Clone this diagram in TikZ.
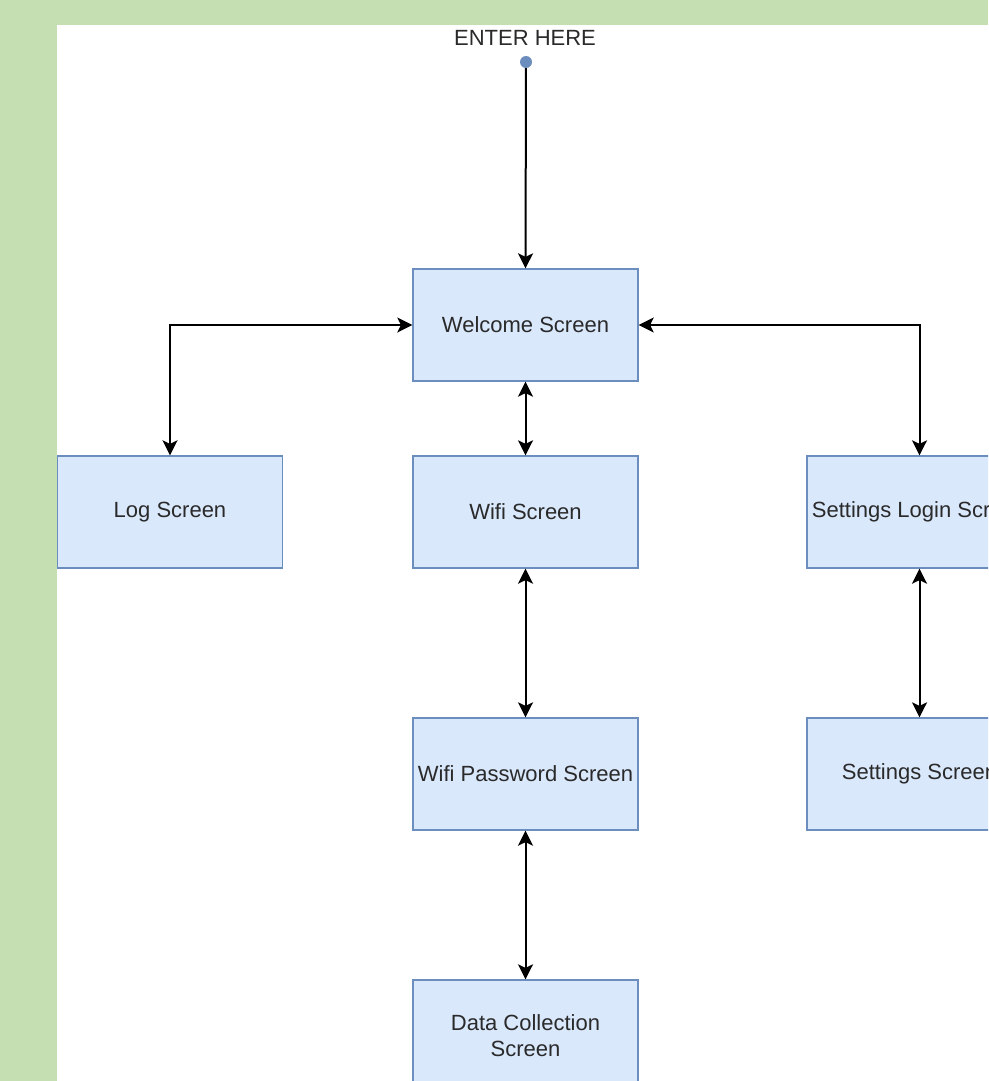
\documentclass[tikz,border=0pt]{standalone}
\usepackage{fontspec}
\setmainfont{Liberation Sans}
\usetikzlibrary{arrows.meta}
\definecolor{bggreen}{HTML}{C5DFB3}
\definecolor{boxfill}{HTML}{DAE8FC}
\definecolor{boxline}{HTML}{6C8EBF}
\definecolor{txt}{HTML}{2A2A2A}
\tikzset{
  screen/.style={draw=boxline, fill=boxfill, line width=1.3pt, minimum width=225pt, minimum height=112pt,
    inner sep=0pt, align=center, text=txt, font=\fontsize{22}{26}\selectfont},
  tipstyle/.style={Stealth[length=15pt,width=15pt,inset=3.5pt]},
  conn/.style={line width=2pt, {Stealth[length=15pt,width=15pt,inset=3.5pt]}-{Stealth[length=15pt,width=15pt,inset=3.5pt]}},
  conn1/.style={line width=2pt, -{Stealth[length=15pt,width=15pt,inset=3.5pt]}},
  entrydot/.style={circle, fill=boxline, minimum size=12pt, inner sep=0pt},
  lbl/.style={text=txt, font=\fontsize{22}{26}\selectfont, inner sep=0pt}
}
\begin{document}
\begin{tikzpicture}[x=1pt,y=-1pt]
\useasboundingbox (0,0) rectangle (988,1081);
\clip (0,0) rectangle (988,1081);
\fill[bggreen] (0,0) rectangle (988,1081);
\fill[white] (57,25) rectangle (988,1081);

\node[lbl] (enter) at (525,38) {ENTER HERE};
\coordinate (dot) at (526,62);

\node[screen] (welcome) at (525.5,325) {Welcome Screen};
\node[screen] (log) at (170,512) {Log Screen};
\node[screen] (wifi) at (525.5,512) {Wifi Screen};
\node[screen] (setlogin) at (919.5,512) {Settings Login Screen};
\node[screen] (wifipwd) at (525.5,774) {Wifi Password Screen};
\node[screen] (setscr) at (919.5,774) {Settings Screen};
\node[screen] (data) at (525.5,1036) {Data Collection\\Screen};

\draw[conn1] (dot) -- (welcome.north);
\node[entrydot] (dotnode) at (dot) {};
\draw[conn] (log.north) |- (welcome.west);
\draw[conn] (setlogin.north) |- (welcome.east);
\draw[conn] (welcome.south) -- (wifi.north);
\draw[conn] (wifi.south) -- (wifipwd.north);
\draw[conn] (wifipwd.south) -- (data.north);
\draw[conn] (setlogin.south) -- (setscr.north);
\end{tikzpicture}
\end{document}
